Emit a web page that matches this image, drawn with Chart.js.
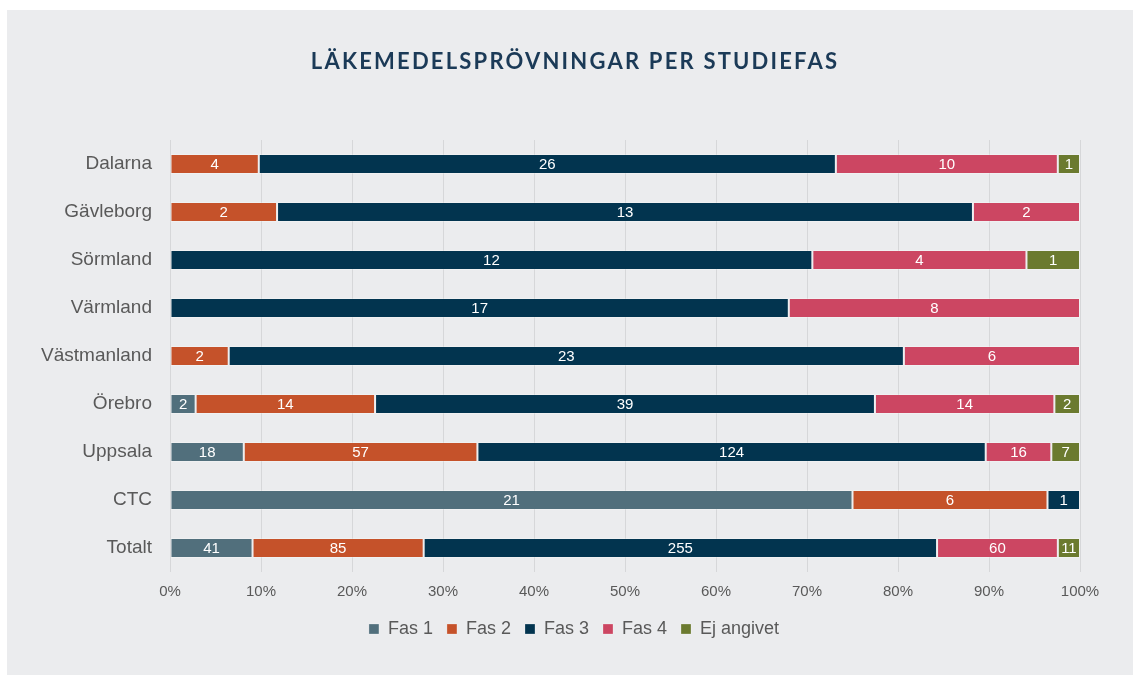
<!DOCTYPE html>
<html>
<head>
<meta charset="utf-8">
<script src="https://cdn.jsdelivr.net/npm/chart.js@4.4.0/dist/chart.umd.min.js"></script>
<style>
  html, body { margin: 0; padding: 0; background: #ffffff; }
  #panel { position: absolute; left: 7px; top: 10px; width: 1126px; height: 665px; background: #ebecee; }
  #chart { display: block; }
</style>
</head>
<body>
<div id="panel"><canvas id="chart" width="1126" height="665"></canvas></div>
<script>
// --- DATA ---
const regions = ['Dalarna', 'Gävleborg', 'Sörmland', 'Värmland', 'Västmanland', 'Örebro', 'Uppsala', 'CTC', 'Totalt'];
const seriesNames = ['Fas 1', 'Fas 2', 'Fas 3', 'Fas 4', 'Ej angivet'];
const fas1 = [0, 0, 0, 0, 0, 2, 18, 21, 41];
const fas2 = [4, 2, 0, 0, 2, 14, 57, 6, 85];
const fas3 = [26, 13, 12, 17, 23, 39, 124, 1, 255];
const fas4 = [10, 2, 4, 8, 6, 14, 16, 0, 60];
const ejAngivet = [1, 0, 1, 0, 0, 2, 7, 0, 11];
const xTicks = ['0%', '10%', '20%', '30%', '40%', '50%', '60%', '70%', '80%', '90%', '100%'];
const colors = ['#516f7c', '#c5522a', '#02344f', '#cc4662', '#6b7a2f'];
const chartTitle = 'LÄKEMEDELSPRÖVNINGAR PER STUDIEFAS';

const counts = [fas1, fas2, fas3, fas4, ejAngivet];
const totals = regions.map((r, i) => counts.reduce((s, arr) => s + arr[i], 0));

// white count labels in the middle of each segment
const segmentLabels = {
    id: 'segmentLabels',
    afterDatasetsDraw(chart) {
        const ctx = chart.ctx;
        ctx.save();
        ctx.font = '15px "Liberation Sans", Arial, sans-serif';
        ctx.fillStyle = '#ffffff';
        ctx.textAlign = 'center';
        ctx.textBaseline = 'middle';
        chart.data.datasets.forEach((ds, di) => {
            chart.getDatasetMeta(di).data.forEach((bar, i) => {
                const n = ds.counts[i];
                if (!n) return;
                ctx.fillText(String(n), (bar.x + bar.base) / 2, bar.y + 1);
            });
        });
        ctx.restore();
    }
};

// spaced-out title, centred over the plot
const spacedTitle = {
    id: 'spacedTitle',
    afterLayout(chart) {
        // let the category labels spill left of the y axis box without clipping
        chart.scales.y.left = 0;
    },
    afterDraw(chart) {
        const ctx = chart.ctx;
        ctx.save();
        ctx.font = 'bold 22px Lato, sans-serif';
        ctx.letterSpacing = '2.2px';
        ctx.fillStyle = '#1b3a57';
        ctx.textAlign = 'center';
        ctx.textBaseline = 'middle';
        ctx.fillText(chartTitle, 568, 52);
        ctx.restore();
    }
};

const datasets = seriesNames.map((name, k) => ({
    label: name,
    counts: counts[k],
    data: counts[k].map((v, i) => v / totals[i] * 100),
    backgroundColor: colors[k],
    borderColor: 'rgba(255,255,255,0.25)',
    borderWidth: 1,
    borderSkipped: false,
    barPercentage: 0.415,
    categoryPercentage: 1
}));

Chart.defaults.font.family = '"Liberation Sans", Arial, sans-serif';
Chart.defaults.color = '#595959';

new Chart(document.getElementById('chart'), {
    type: 'bar',
    data: { labels: regions, datasets: datasets },
    plugins: [segmentLabels, spacedTitle],
    options: {
        responsive: false,
        animation: false,
        indexAxis: 'y',
        layout: { padding: { left: 61, right: 53, top: 130, bottom: 27 } },
        plugins: {
            title: { display: false },
            legend: {
                position: 'bottom',
                labels: {
                    boxWidth: 10,
                    boxHeight: 10,
                    padding: 14,
                    color: '#595959',
                    font: { size: 18 }
                }
            },
            tooltip: { enabled: false }
        },
        scales: {
            x: {
                stacked: true,
                min: 0,
                max: 100,
                afterFit(scale) { scale.height -= 6; },
                ticks: {
                    stepSize: 10,
                    padding: 11,
                    font: { size: 15 },
                    color: '#595959',
                    callback: (v, i) => xTicks[i]
                },
                grid: { color: '#d6d7d9', drawTicks: false },
                border: { display: false }
            },
            y: {
                stacked: true,
                afterFit(scale) { scale.width = 102; },
                ticks: { padding: 10, font: { size: 19 }, color: '#595959' },
                grid: { display: false },
                border: { display: false }
            }
        }
    }
});
</script>
</body>
</html>
